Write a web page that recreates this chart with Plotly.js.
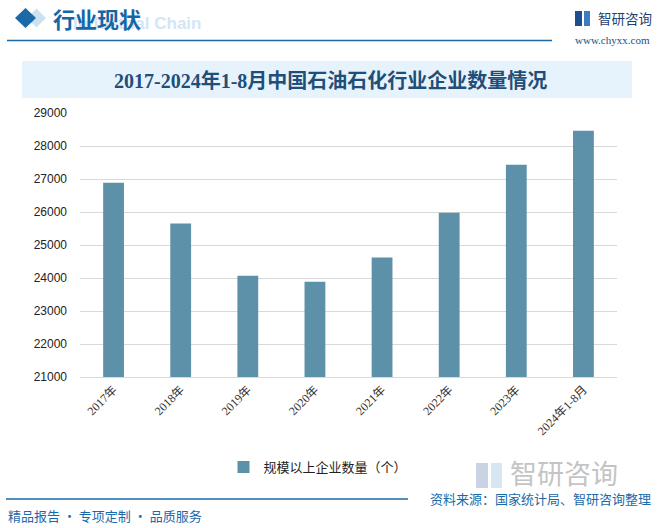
<!DOCTYPE html>
<html>
<head>
<meta charset="utf-8">
<script src="https://cdn.plot.ly/plotly-3.0.1.min.js"></script>
<style>html,body{margin:0;padding:0;background:#fff;}#chart{width:657px;height:528px;}</style>
</head>
<body>
<div id="chart"></div>
<script>
// ---- data ----
const categories = ["2017年","2018年","2019年","2020年","2021年","2022年","2023年","2024年1-8月"];
const enterpriseCounts = [26890, 25650, 24070, 23890, 24620, 25980, 27430, 28460];
const seriesName = "规模以上企业数量（个）";
const yTickVals = [21000,22000,23000,24000,25000,26000,27000,28000,29000];
const chartTitle = "2017-2024年1-8月中国石油石化行业企业数量情况";

// ---- layout helpers (pixel -> paper) ----
const W = 657, H = 528;
const L = 80, R = 617, T = 113, B = 377;
const px = x => (x - L) / (R - L);
const py = y => (B - y) / (B - T);

const blue = "#1a6aa8";
const barColor = "#5d91a9";

const shapes = [
  // title box
  {type:"rect", xref:"paper", yref:"paper", x0:px(22), x1:px(632), y0:py(98), y1:py(61),
   fillcolor:"#e7f3fc", line:{width:0}, layer:"below"},
  // header line
  {type:"line", xref:"paper", yref:"paper", x0:px(7), x1:px(552), y0:py(40.5), y1:py(40.5),
   line:{color:blue, width:1.5}},
  // footer line
  {type:"line", xref:"paper", yref:"paper", x0:px(6), x1:px(408), y0:py(499), y1:py(499),
   line:{color:blue, width:1.5}},
  // light diamond
  {type:"path", xref:"paper", yref:"paper",
   path:`M ${px(27)} ${py(18)} L ${px(36.5)} ${py(8.5)} L ${px(46)} ${py(18)} L ${px(36.5)} ${py(27.5)} Z`,
   fillcolor:"#cde2f1", line:{width:0}},
  // dark diamond
  {type:"path", xref:"paper", yref:"paper",
   path:`M ${px(15)} ${py(18)} L ${px(25.5)} ${py(8)} L ${px(36)} ${py(18)} L ${px(25.5)} ${py(28)} Z`,
   fillcolor:"#1a6aa8", line:{width:0}},
  // small logo icon top-right
  {type:"rect", xref:"paper", yref:"paper", x0:px(575), x1:px(582), y0:py(26), y1:py(11),
   fillcolor:"#1f4e8c", line:{width:0}},
  {type:"rect", xref:"paper", yref:"paper", x0:px(584), x1:px(590), y0:py(26), y1:py(11),
   fillcolor:"#3d7cc0", line:{width:0}},
  // watermark logo icon bottom
  {type:"rect", xref:"paper", yref:"paper", x0:px(476), x1:px(488), y0:py(488), y1:py(463),
   fillcolor:"#c9d3e3", line:{width:0}},
  {type:"rect", xref:"paper", yref:"paper", x0:px(491), x1:px(502), y0:py(488), y1:py(463),
   fillcolor:"#d6e6f3", line:{width:0}}
];

const annotations = [
  {text:"Industrial Chain", xref:"paper", yref:"paper", x:px(203), y:py(24), xanchor:"right", yanchor:"middle",
   showarrow:false, font:{family:"Liberation Sans, Arial", size:17, color:"#d3e6f4", weight:"bold"}},
  {text:"行业现状", xref:"paper", yref:"paper", x:px(51), y:py(18), xanchor:"left", yanchor:"middle",
   showarrow:false, font:{family:"Noto Sans CJK SC", size:22, color:"#1666a6", weight:"bold"}},
  {text:"智研咨询", xref:"paper", yref:"paper", x:px(596), y:py(18), xanchor:"left", yanchor:"middle",
   showarrow:false, font:{family:"Noto Sans CJK SC", size:13.5, color:"#1f3f6e"}},
  {text:"www.chyxx.com", xref:"paper", yref:"paper", x:px(652), y:py(40), xanchor:"right", yanchor:"middle",
   showarrow:false, font:{family:"Liberation Serif, serif", size:11, color:"#1f4e79"}},
  {text:chartTitle, xref:"paper", yref:"paper", x:px(330), y:py(80), xanchor:"center", yanchor:"middle",
   showarrow:false, font:{family:"Liberation Serif, Noto Sans CJK SC", size:20, color:"#1f4e79", weight:"bold"}},
  {text:"智研咨询", xref:"paper", yref:"paper", x:px(508), y:py(472), xanchor:"left", yanchor:"middle",
   showarrow:false, font:{family:"Noto Sans CJK SC", size:27, color:"#c4c4c4"}},
  {text:"资料来源：国家统计局、智研咨询整理", xref:"paper", yref:"paper", x:px(653), y:py(498), xanchor:"right", yanchor:"middle",
   showarrow:false, font:{family:"Noto Sans CJK SC", size:13, color:blue}},
  {text:"精品报告 · 专项定制 · 品质服务", xref:"paper", yref:"paper", x:px(6), y:py(515), xanchor:"left", yanchor:"middle",
   showarrow:false, font:{family:"Noto Sans CJK SC", size:13, color:blue}}
];

const trace = {
  type:"bar",
  x:categories,
  y:enterpriseCounts,
  name:seriesName,
  marker:{color:barColor},
  showlegend:true,
  hoverinfo:"x+y"
};

const layout = {
  width:W, height:H,
  margin:{l:L, r:W-R, t:T, b:H-B, pad:0},
  paper_bgcolor:"#ffffff",
  plot_bgcolor:"#ffffff",
  bargap:0.69,
  showlegend:true,
  legend:{orientation:"h", x:px(318), xanchor:"center", y:py(467), yanchor:"middle",
          font:{family:"Noto Sans CJK SC", size:13, color:"#222"}, itemwidth:30,
          bgcolor:"rgba(0,0,0,0)"},
  xaxis:{
    type:"category",
    tickangle:-45,
    tickfont:{family:"Liberation Serif, Noto Sans CJK SC", size:12, color:"#333"},
    showgrid:false, zeroline:false,
    showline:true, linecolor:"#d9d9d9", linewidth:1,
    ticks:""
  },
  yaxis:{
    range:[21000, 29000],
    tickvals:yTickVals,
    ticktext:yTickVals.map(String),
    tickfont:{family:"Liberation Sans, Arial", size:12, color:"#222"},
    showgrid:true, gridcolor:"#d9d9d9", gridwidth:1,
    zeroline:false, showline:false, ticks:"", ticklabelstandoff:12
  },
  shapes:shapes,
  annotations:annotations
};

Plotly.newPlot("chart", [trace], layout, {displayModeBar:false, staticPlot:true});
</script>
</body>
</html>
